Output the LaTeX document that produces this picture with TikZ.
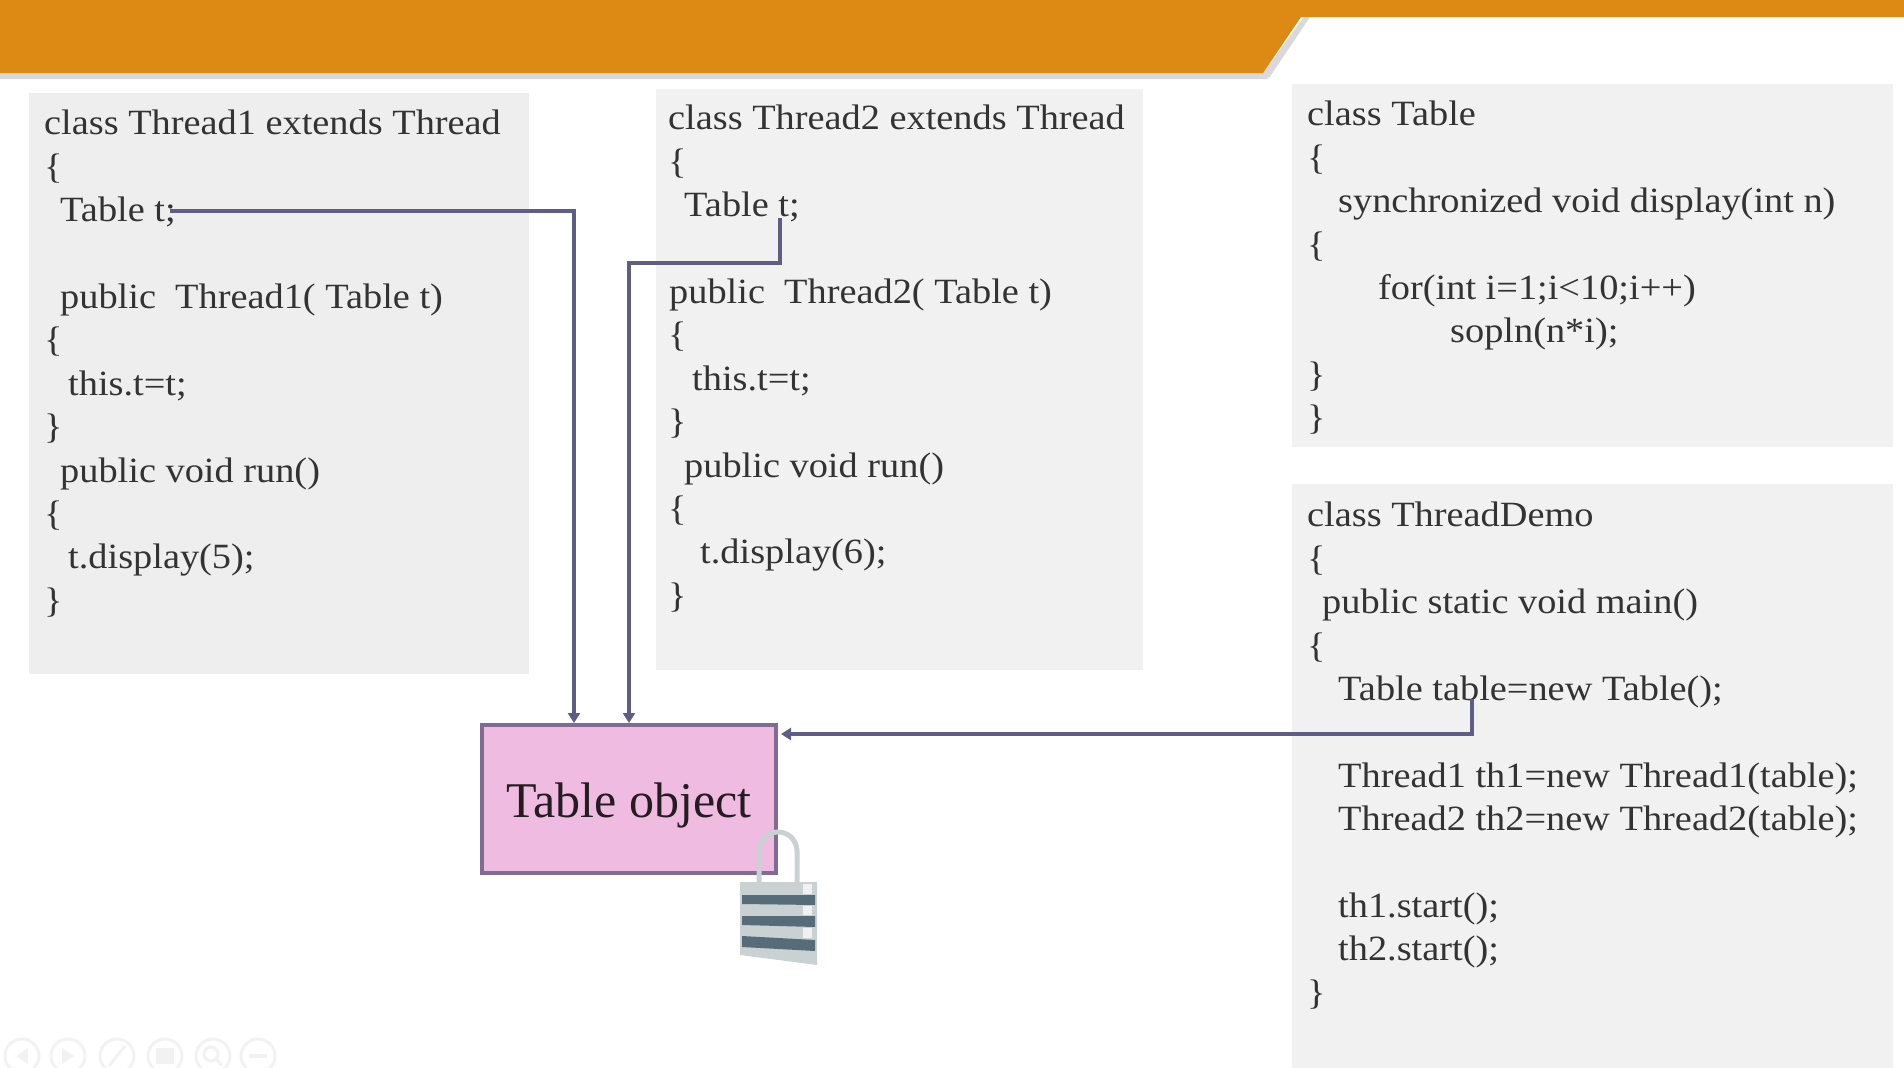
\documentclass[tikz,border=0pt]{standalone}
\usepackage{fontspec}
\setmainfont[FakeStretch=1.08]{Liberation Serif}
\newfontfamily\objfont{Liberation Serif}
\usetikzlibrary{arrows.meta}
\definecolor{headorange}{HTML}{DC8A14}
\definecolor{headshade}{HTML}{D9D8DC}
\definecolor{linkblue}{HTML}{5F5C86}
\definecolor{objpink}{HTML}{EFBBE0}
\definecolor{objedge}{HTML}{7F6C92}
\definecolor{codegray}{HTML}{EEEEEE}
\definecolor{codepale}{HTML}{F1F1F1}
\definecolor{codetext}{HTML}{333333}
\definecolor{lockdark}{HTML}{566C78}
\definecolor{locklight}{HTML}{C9D1D3}
\definecolor{iconline}{HTML}{F2F2F2}
\newcommand{\ind}[1]{\hspace*{#1pt}}
\tikzset{
  codetxt/.style={anchor=north west, align=left, inner sep=0pt, text=codetext,
                  font=\fontsize{35.5}{43.4}\selectfont},
  link/.style={draw=linkblue, line width=3.5pt, -{Triangle[length=10pt,width=12pt]}},
  objnode/.style={draw=objedge, fill=objpink, line width=4pt, inner sep=0pt,
                  minimum width=294pt, minimum height=148pt,
                  font=\objfont\fontsize{50}{50}\selectfont, text=black!85!objpink},
  toolicon/.style={circle, draw=iconline, line width=3pt, minimum size=34pt, inner sep=0pt}
}
\begin{document}
\begin{tikzpicture}[x=1pt,y=-1pt]
	\useasboundingbox (0,0) rectangle (1904,1068);
	% header band
	\fill[headshade] (0,66) -- (1263,66) -- (1268,79) -- (0,79) -- cycle;
	\fill[headshade] (1304,17) -- (1310,17) -- (1269,78) -- (1263,73) -- cycle;
	\fill[headorange] (0,0) -- (1904,0) -- (1904,17) -- (1301,17) -- (1263,73) -- (0,73) -- cycle;
	% code panels
	\fill[codegray] (29,93) rectangle (529,674);
	\fill[codepale] (656,89) rectangle (1143,670);
	\fill[codepale] (1292,84) rectangle (1893,447);
	\fill[codepale] (1292,484) rectangle (1893,1068);
	\node[codetxt] (thread1) at (44,110) {class Thread1 extends Thread\\
		\{\\
		\ind{16}Table t;\\
		~\\
		\ind{16}public~~Thread1( Table t)\\
		\{\\
		\ind{24}this.t=t;\\
		\}\\
		\ind{16}public void run()\\
		\{\\
		\ind{24}t.display(5);\\
		\}};
	\node[codetxt] (thread2) at (668,105) {class Thread2 extends Thread\\
		\{\\
		\ind{16}Table t;\\
		~\\
		\ind{1}public~~Thread2( Table t)\\
		\{\\
		\ind{24}this.t=t;\\
		\}\\
		\ind{16}public void run()\\
		\{\\
		\ind{32}t.display(6);\\
		\}};
	\node[codetxt] (tableclass) at (1307,101) {class Table\\
		\{\\
		\ind{31}synchronized void display(int n)\\
		\{\\
		\ind{71}for(int i=1;i<10;i++)\\
		\ind{143}sopln(n*i);\\
		\}\\
		\}};
	\node[codetxt] (demo) at (1307,502) {class ThreadDemo\\
		\{\\
		\ind{15}public static void main()\\
		\{\\
		\ind{31}Table table=new Table();\\
		~\\
		\ind{31}Thread1 th1=new Thread1(table);\\
		\ind{31}Thread2 th2=new Thread2(table);\\
		~\\
		\ind{31}th1.start();\\
		\ind{31}th2.start();\\
		\}};
	% object
	\node[objnode] (tobj) at (629,799) {\raisebox{-18pt}[0pt][0pt]{Table object}};
	% links
	\coordinate (t1) at (170,211);
	\coordinate (t2) at (780,218);
	\coordinate (t3) at (1472,699);
	\coordinate (in1) at (574,723);
	\coordinate (in2) at (629,723);
	\coordinate (in3) at (781,734);
	\draw[link] (t1) -| (in1);
	\draw[link] (t2) |- (629,263) -- (in2);
	\draw[link] (t3) |- (in3);
	% padlock
	\draw[locklight, line width=5pt] (759,884) -- (759,851) arc[start angle=180, end angle=360, radius=19] -- (797,884);
	\fill[locklight] (740,882) -- (817,882) -- (817,965) -- (740,955) -- cycle;
	\fill[lockdark] (742,895) -- (815,895) -- (815,905) -- (742,904) -- cycle;
	\fill[lockdark] (742,916) -- (815,916) -- (815,927) -- (742,925) -- cycle;
	\fill[lockdark] (742,936) -- (815,940) -- (815,951) -- (742,947) -- cycle;
	\fill[white!70!locklight] (803,884) rectangle (812,894);
	\fill[white!70!locklight] (803,906) rectangle (812,915);
	\fill[white!70!locklight] (803,928) rectangle (812,938);
	% slide toolbar
	\foreach \x/\n in {22/a,68/b,117/c,165/d,213/e,258/f}
		\node[toolicon] (icon\n) at (\x,1056) {};
	\fill[iconline] (16,1056) -- (28,1048) -- (28,1064) -- cycle;
	\fill[iconline] (74,1056) -- (62,1048) -- (62,1064) -- cycle;
	\draw[iconline, line width=3pt] (109,1066) -- (125,1046);
	\fill[iconline] (156,1048) rectangle (174,1064);
	\draw[iconline, line width=3pt] (211,1054) circle[radius=7] (216,1059) -- (222,1065);
	\draw[iconline, line width=4pt] (249,1056) -- (267,1056);
\end{tikzpicture}
\end{document}
